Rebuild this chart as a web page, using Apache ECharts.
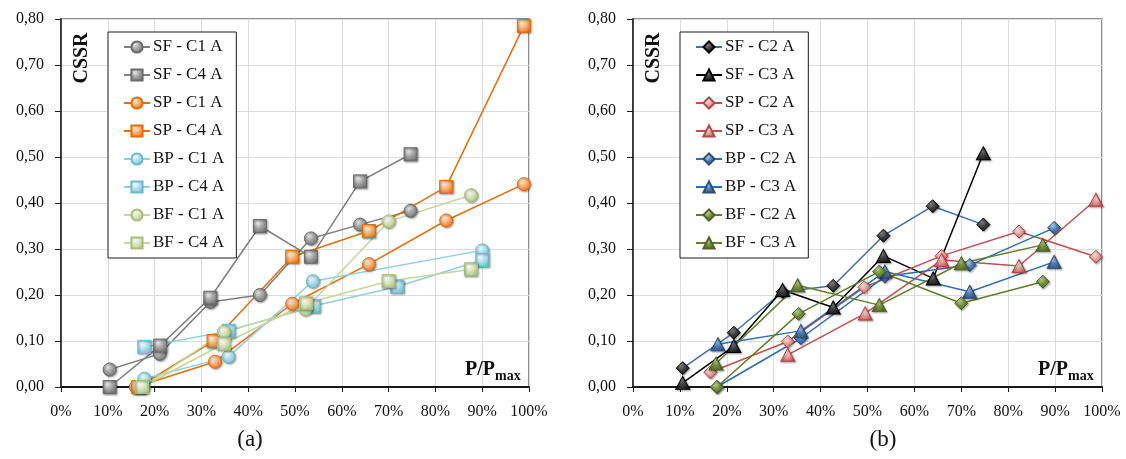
<!DOCTYPE html>
<html>
<head>
<meta charset="utf-8">
<script src="https://cdn.jsdelivr.net/npm/echarts@6/dist/echarts.min.js"></script>
<style>
  html, body { margin: 0; padding: 0; background: #fff; }
  #chart { width: 1126px; height: 459px; }
</style>
</head>
<body>
<div id="chart"></div>
<script>
// Load level P/Pmax (%) and CSSR value for each specimen
// Panel (a)
const sfC1A = [[10.4, 0.038], [21.1, 0.072], [31.9, 0.185], [42.5, 0.200], [53.4, 0.323], [63.9, 0.353], [74.7, 0.383]];
const sfC4A = [[10.4, 0.000], [21.2, 0.090], [31.9, 0.194], [42.5, 0.350], [53.4, 0.283], [63.9, 0.447], [74.7, 0.506]];
const spC1A = [[16.0, 0.000], [32.9, 0.055], [49.4, 0.181], [65.8, 0.267], [82.3, 0.362], [98.9, 0.441]];
const spC4A = [[16.5, 0.000], [32.6, 0.100], [49.4, 0.283], [65.8, 0.339], [82.3, 0.435], [98.9, 0.785]];
const bpC1A = [[17.8, 0.018], [35.8, 0.066], [53.8, 0.230], [90.0, 0.297]];
const bpC4A = [[17.8, 0.087], [35.8, 0.122], [54.0, 0.176], [71.8, 0.218], [90.0, 0.276]];
const bfC1A = [[17.6, 0.000], [34.8, 0.120], [52.2, 0.169], [70.0, 0.360], [87.6, 0.417]];
const bfC4A = [[17.3, 0.000], [34.8, 0.094], [52.4, 0.182], [70.0, 0.230], [87.6, 0.256]];
// Panel (b)
const sfC2A = [[10.6, 0.041], [21.5, 0.118], [31.9, 0.207], [42.7, 0.220], [53.4, 0.329], [63.9, 0.393], [74.7, 0.353]];
const sfC3A = [[10.6, 0.009], [21.5, 0.089], [31.9, 0.211], [42.7, 0.173], [53.4, 0.285], [64.0, 0.236], [74.7, 0.508]];
const spC2A = [[16.5, 0.032], [33.0, 0.099], [49.3, 0.217], [65.8, 0.285], [82.3, 0.338], [98.7, 0.283]];
const spC3A = [[33.0, 0.070], [49.5, 0.160], [65.8, 0.276], [82.3, 0.263], [98.7, 0.407]];
const bpC2A = [[17.9, 0.000], [35.8, 0.106], [53.7, 0.240], [71.8, 0.265], [89.8, 0.346]];
const bpC3A = [[18.1, 0.093], [35.8, 0.122], [53.7, 0.251], [71.8, 0.207], [89.8, 0.272]];
const bfC2A = [[17.9, 0.000], [35.3, 0.159], [52.5, 0.251], [70.0, 0.182], [87.4, 0.229]];
const bfC3A = [[17.7, 0.051], [35.1, 0.221], [52.5, 0.178], [70.0, 0.269], [87.4, 0.309]];

const xTicks = { min: 0, max: 100, interval: 10 };
const yTicks = { min: 0, max: 0.8, interval: 0.1 };

const FONT = 'Liberation Serif';

function gloss(light, base, dark) {
  return new echarts.graphic.RadialGradient(0.35, 0.3, 0.8, [
    { offset: 0, color: light },
    { offset: 0.45, color: base },
    { offset: 1, color: dark }
  ]);
}

const palette = {
  sfGrey:  { line: '#7f7f7f', fill: ['#e6e6e6', '#a6a6a6', '#6b6b6b'], border: '#6b6b6b' },
  spOrng:  { line: '#e46c0a', fill: ['#fde9d9', '#f8b37a', '#e46c0a'], border: '#e46c0a' },
  bpCyan:  { line: '#8ecfe0', fill: ['#f2fbfd', '#b3e0ec', '#6dbbd1'], border: '#6dbbd1' },
  bfGreen: { line: '#c3d69b', fill: ['#f6f9ef', '#d8e5bf', '#a7bf79'], border: '#a7bf79' },
  sfBlack: { line: '#3f6ea8', fill: ['#8c8c8c', '#404040', '#111111'], border: '#000000' },
  sfBlk3:  { line: '#000000', fill: ['#8c8c8c', '#404040', '#111111'], border: '#000000' },
  spRed:   { line: '#c0504d', fill: ['#fdeeee', '#e9a9a7', '#c0504d'], border: '#b14a47' },
  bpBlue:  { line: '#2f6db2', fill: ['#c9d9ee', '#4f81bd', '#2c4d75'], border: '#2c4d75' },
  bfOlive: { line: '#5f7d2b', fill: ['#c8dca0', '#77933c', '#4f6228'], border: '#4f6228' }
};

function line(name, data, pal, symbol, size, idx) {
  return {
    name: name,
    type: 'line',
    xAxisIndex: idx,
    yAxisIndex: idx,
    data: data,
    symbol: symbol,
    symbolSize: size,
    showAllSymbol: true,
    lineStyle: { color: pal.line, width: 1.5 },
    itemStyle: {
      color: gloss(pal.fill[0], pal.fill[1], pal.fill[2]),
      borderColor: pal.border,
      borderWidth: 1,
      shadowColor: 'rgba(0,0,0,0.35)',
      shadowBlur: 2,
      shadowOffsetX: 1,
      shadowOffsetY: 1
    },
    emphasis: { disabled: true },
    animation: false,
    z: 3
  };
}

const seriesA = [
  line('SF - C1 A', sfC1A, palette.sfGrey, 'circle', 13, 0),
  line('SF - C4 A', sfC4A, palette.sfGrey, 'rect', 13, 0),
  line('SP - C1 A', spC1A, palette.spOrng, 'circle', 13, 0),
  line('SP - C4 A', spC4A, palette.spOrng, 'rect', 13, 0),
  line('BP - C1 A', bpC1A, palette.bpCyan, 'circle', 13, 0),
  line('BP - C4 A', bpC4A, palette.bpCyan, 'rect', 13, 0),
  line('BF - C1 A', bfC1A, palette.bfGreen, 'circle', 13, 0),
  line('BF - C4 A', bfC4A, palette.bfGreen, 'rect', 13, 0)
];
const seriesB = [
  line('SF - C2 A', sfC2A, palette.sfBlack, 'diamond', [13, 13], 1),
  line('SF - C3 A', sfC3A, palette.sfBlk3, 'triangle', [14, 13], 1),
  line('SP - C2 A', spC2A, palette.spRed, 'diamond', [13, 13], 1),
  line('SP - C3 A', spC3A, palette.spRed, 'triangle', [14, 13], 1),
  line('BP - C2 A', bpC2A, palette.bpBlue, 'diamond', [13, 13], 1),
  line('BP - C3 A', bpC3A, palette.bpBlue, 'triangle', [14, 13], 1),
  line('BF - C2 A', bfC2A, palette.bfOlive, 'diamond', [13, 13], 1),
  line('BF - C3 A', bfC3A, palette.bfOlive, 'triangle', [14, 13], 1)
];

const fmtY = v => v.toFixed(2).replace('.', ',');

function xAxis(gridIndex) {
  return {
    type: 'value', gridIndex: gridIndex,
    min: xTicks.min, max: xTicks.max, interval: xTicks.interval,
    axisLine: { show: true, onZero: false, lineStyle: { color: '#1a1a1a', width: 2 } },
    axisTick: { show: true, inside: false, length: 5, lineStyle: { color: '#1a1a1a', width: 1 } },
    axisLabel: { formatter: '{value}%', fontFamily: FONT, fontSize: 16, color: '#111', margin: 17 },
    splitLine: { show: true, lineStyle: { color: '#dcdcdc', width: 1 } }
  };
}
function yAxis(gridIndex) {
  return {
    type: 'value', gridIndex: gridIndex,
    min: yTicks.min, max: yTicks.max, interval: yTicks.interval,
    axisLine: { show: true, onZero: false, lineStyle: { color: '#1a1a1a', width: 1.5 } },
    axisTick: { show: true, inside: false, length: 6, lineStyle: { color: '#1a1a1a', width: 1 } },
    axisLabel: { formatter: fmtY, fontFamily: FONT, fontSize: 16, color: '#111', margin: 17 },
    splitLine: { show: true, lineStyle: { color: '#dcdcdc', width: 1 } }
  };
}

function legend(names, left) {
  return {
    data: names,
    orient: 'vertical',
    left: left,
    top: 32,
    padding: [6, 12, 6, 15],
    itemGap: 10,
    itemWidth: 26,
    itemHeight: 14,
    backgroundColor: '#ffffff',
    borderColor: '#1a1a1a',
    borderWidth: 1,
    borderRadius: 0,
    selectedMode: false,
    textStyle: { fontFamily: FONT, fontSize: 17, lineHeight: 18, color: '#111', padding: [0, 0, 0, -2] }
  };
}

function axisTitles(gx, gRight) {
  return [
    {
      type: 'text', x: gx + 21, y: 58, rotation: Math.PI / 2,
      style: { text: 'CSSR', font: 'bold 20px ' + FONT, fill: '#111', textAlign: 'center', textVerticalAlign: 'middle' },
      z: 10
    },
    {
      type: 'text', x: gRight - 34, y: 370,
      style: { text: 'P/P', font: 'bold 20px ' + FONT, fill: '#111', textAlign: 'right', textVerticalAlign: 'middle' },
      z: 10
    },
    {
      type: 'text', x: gRight - 34, y: 376,
      style: { text: 'max', font: 'bold 14px ' + FONT, fill: '#111', textAlign: 'left', textVerticalAlign: 'middle' },
      z: 10
    }
  ];
}

const chart = echarts.init(document.getElementById('chart'), null, { renderer: 'canvas' });
chart.setOption({
  animation: false,
  backgroundColor: '#ffffff',
  grid: [
    { left: 61, top: 19, width: 468, height: 368, show: true, borderColor: '#6b6b6b', borderWidth: 1.5, backgroundColor: 'transparent' },
    { left: 633, top: 19, width: 469, height: 368, show: true, borderColor: '#6b6b6b', borderWidth: 1.5, backgroundColor: 'transparent' }
  ],
  xAxis: [xAxis(0), xAxis(1)],
  yAxis: [yAxis(0), yAxis(1)],
  legend: [
    legend(seriesA.map(s => s.name), 108),
    legend(seriesB.map(s => s.name), 680)
  ],
  graphic: [
    ...axisTitles(61, 529),
    ...axisTitles(633, 1102),
    { type: 'text', x: 250, y: 440, style: { text: '(a)', font: '23px ' + FONT, fill: '#111', textAlign: 'center', textVerticalAlign: 'middle' } },
    { type: 'text', x: 883, y: 440, style: { text: '(b)', font: '23px ' + FONT, fill: '#111', textAlign: 'center', textVerticalAlign: 'middle' } }
  ],
  series: [...seriesA, ...seriesB]
});
</script>
</body>
</html>
